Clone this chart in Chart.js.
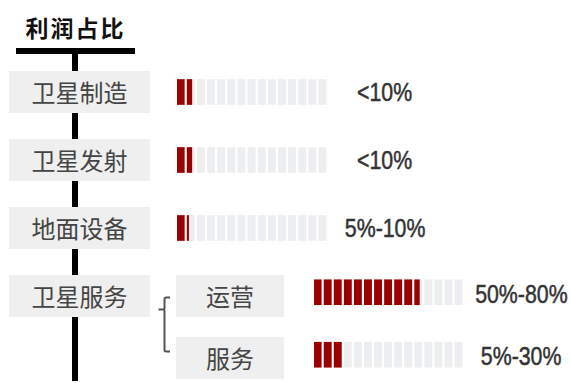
<!DOCTYPE html>
<html>
<head>
<meta charset="utf-8">
<script src="https://cdn.jsdelivr.net/npm/chart.js@4/dist/chart.umd.min.js"></script>
<style>
  html, body { margin: 0; padding: 0; background: #fff; }
  body { width: 571px; height: 383px; position: relative; overflow: hidden;
         font-family: "Noto Sans CJK SC", "Noto Sans", sans-serif; }
  .abs { position: absolute; }
  .title { left: 16px; width: 119px; top: 12px; text-align: center; font-size: 23px;
           font-weight: bold; color: #111; line-height: 30px; letter-spacing: 2px; }
  .rule { left: 16px; top: 48px; width: 119px; height: 6px; background: #000; }
  .trunk { left: 72px; top: 50px; width: 6px; height: 331px; background: #000; }
  .box { background: #efefef; color: #444; font-size: 24px; text-align: center;
         line-height: 42px; height: 42px; }
  .val { font-family: "Liberation Sans", Arial, sans-serif;
         font-size: 26px; color: #333; width: 140px; text-align: center; line-height: 30px;
         -webkit-text-stroke: 0.5px #333; }
  .val span { display: inline-block; transform: scaleX(0.82); transform-origin: 50% 50%;
              white-space: nowrap; }
  canvas { display: block; }
</style>
</head>
<body>
<div class="abs title">利润占比</div>
<div class="abs rule"></div>
<div class="abs trunk"></div>

<div id="mainBoxes"></div>
<div id="subBoxes"></div>

<svg class="abs" style="left:0;top:0" width="571" height="383">
  <path d="M170 297.5 H166 Q164.5 297.5 164.5 299 V308 Q164.5 309.5 163 309.5 H158.5 M163 309.5 Q164.5 309.5 164.5 311 V350 Q164.5 351.5 166 351.5 H170"
        fill="none" stroke="#555" stroke-width="2"/>
</svg>

<div class="abs" style="left:177px;top:58px;width:152px;height:204px"><canvas id="mainChart"></canvas></div>
<div class="abs" style="left:314px;top:261px;width:151px;height:125px"><canvas id="subChart"></canvas></div>

<script>
// Profit share by segment, measured in filled cells out of 15
const mainCategories = ['卫星制造', '卫星发射', '地面设备'];
const mainCells = [1.64, 1.64, 1.2];
const mainLabels = ['<10%', '<10%', '5%-10%'];

// Breakdown of 卫星服务
const subCategories = ['运营', '服务'];
const subCells = [10.65, 3];
const subLabels = ['50%-80%', '5%-30%'];

const CELL_COUNT = 15;
const CELL_FILL = 0.72;      // drawn width of one cell, in cell units
const RED = '#9a0000';
const GREY = '#edeef0';

// HTML boxes and range labels
function addBoxes(container, cats, labels, cfg) {
  const host = document.getElementById(container);
  cats.forEach((c, i) => {
    const top = cfg.top + i * cfg.step;
    const b = document.createElement('div');
    b.className = 'abs box';
    b.style.left = cfg.left + 'px';
    b.style.width = cfg.width + 'px';
    b.style.top = top + 'px';
    b.textContent = c;
    host.appendChild(b);
    if (!labels[i]) return;
    const v = document.createElement('div');
    v.className = 'abs val';
    v.style.left = (cfg.labelCenter - 70) + 'px';
    v.style.top = (top + cfg.labelDy) + 'px';
    const s = document.createElement('span');
    s.textContent = labels[i];
    v.appendChild(s);
    host.appendChild(v);
  });
}
addBoxes('mainBoxes', mainCategories, mainLabels, { left: 9, width: 141, top: 71, step: 68, labelCenter: 385, labelDy: 6 });
addBoxes('mainBoxes', ['卫星服务'], [''], { left: 9, width: 141, top: 275, step: 68, labelCenter: 385, labelDy: 6 });
addBoxes('subBoxes', subCategories, subLabels, { left: 176, width: 108, top: 275, step: 62, labelCenter: 521, labelDy: 4 });

// One grey dataset and one red dataset per cell position
function cellDatasets(values) {
  const sets = [];
  for (let i = 0; i < CELL_COUNT; i++) {
    sets.push({
      data: values.map(v => {
        const f = Math.max(0, Math.min(1, v - i));
        return f > 0 ? [i, i + CELL_FILL * f] : null;
      }),
      backgroundColor: RED,
      order: 0
    });
    sets.push({
      data: values.map(() => [i, i + CELL_FILL]),
      backgroundColor: GREY,
      order: 1
    });
  }
  return sets;
}

function makeChart(id, cats, values) {
  return new Chart(document.getElementById(id), {
    type: 'bar',
    data: { labels: cats, datasets: cellDatasets(values) },
    options: {
      indexAxis: 'y',
      responsive: true,
      maintainAspectRatio: false,
      animation: false,
      events: [],
      layout: { padding: 0 },
      datasets: { bar: { grouped: false, barThickness: 25, borderWidth: 0 } },
      scales: {
        x: { type: 'linear', min: 0, max: CELL_COUNT, display: false },
        y: { type: 'category', display: false }
      },
      plugins: { legend: { display: false }, tooltip: { enabled: false } }
    }
  });
}

makeChart('mainChart', mainCategories, mainCells);
makeChart('subChart', subCategories, subCells);
</script>
</body>
</html>
